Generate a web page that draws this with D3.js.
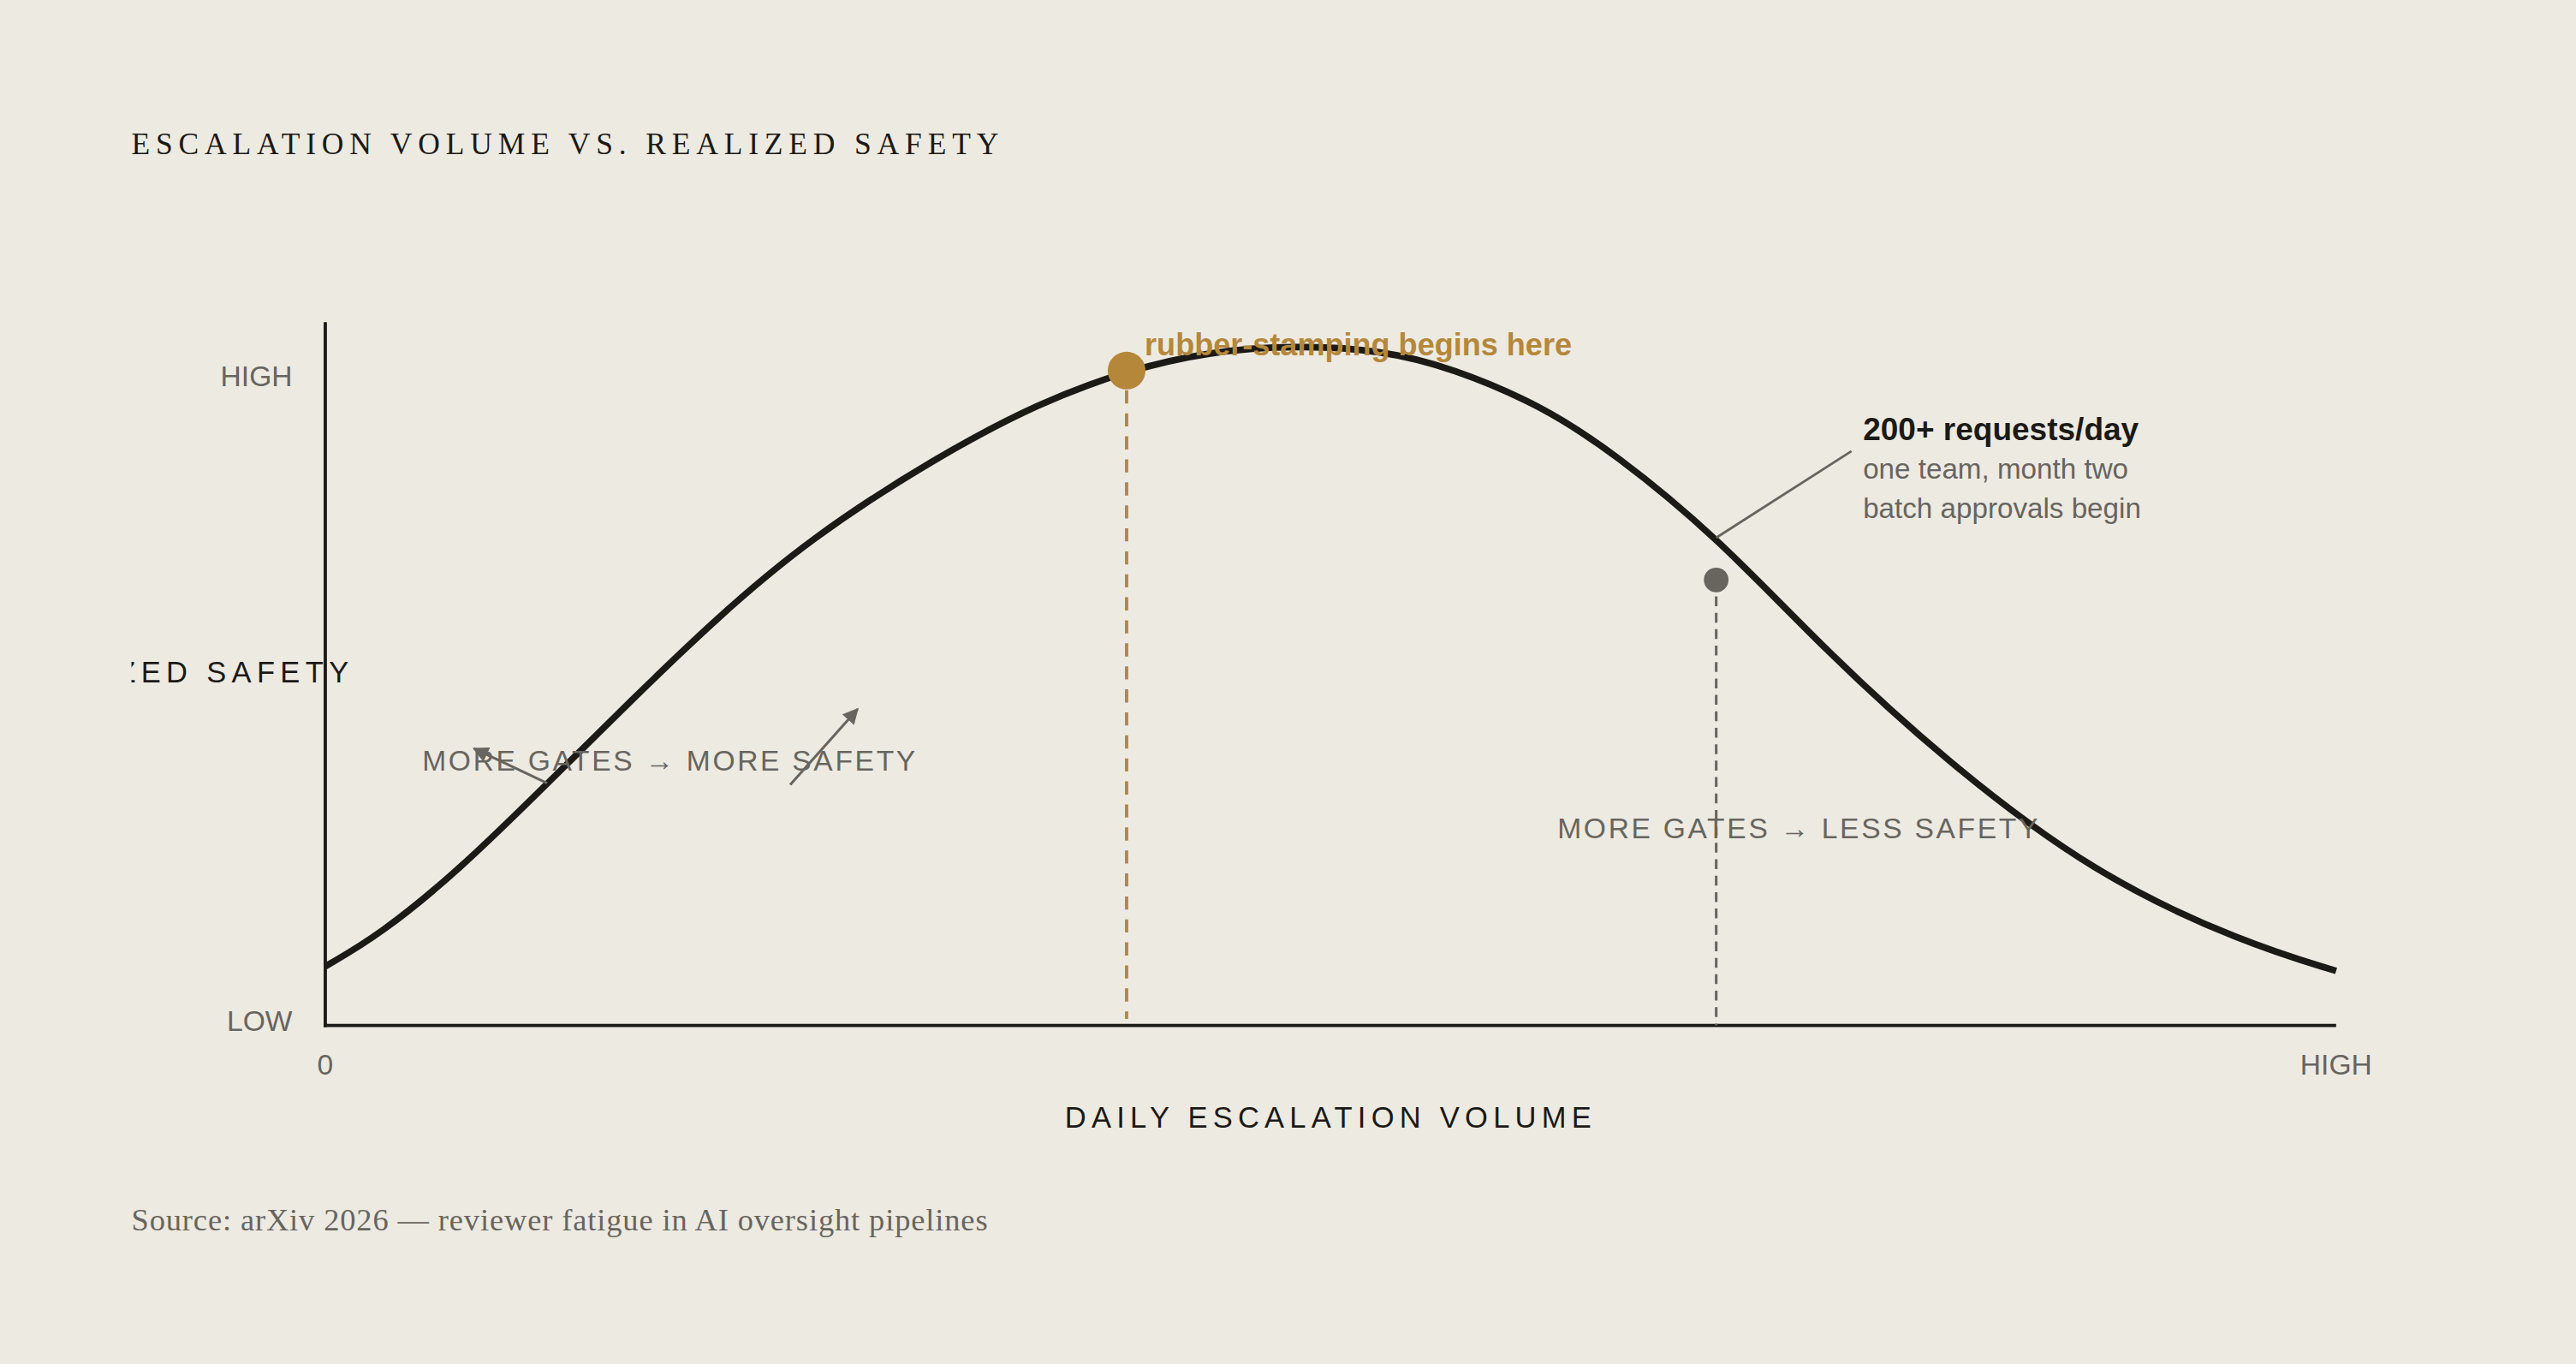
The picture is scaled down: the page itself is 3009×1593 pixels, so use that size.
<!DOCTYPE html>
<html>
<head>
<meta charset="utf-8">
<script src="https://cdn.jsdelivr.net/npm/d3@7"></script>
<style>
  html, body { margin: 0; padding: 0; background: #edeae2; }
  svg { display: block; }
</style>
</head>
<body>
<script>
// ---- data ----
const volume = [0, 2.70, 6.61, 11.05, 15.22, 19.39, 24.08, 30.34, 35.56, 39.85, 44.00, 48.25, 52.51, 56.06, 60.46, 64.10, 69.17, 74.55, 80.53, 87.99, 95.46, 100];
const safety = [0.084, 0.133, 0.232, 0.368, 0.497, 0.623, 0.748, 0.874, 0.960, 1.009, 1.039, 1.048, 1.041, 1.013, 0.955, 0.881, 0.752, 0.576, 0.404, 0.226, 0.120, 0.077];
const xTickValues = [0, 100];
const xTickLabels = ["0", "HIGH"];
const yTickValues = [0, 1];
const yTickLabels = ["LOW", "HIGH"];
const peakPoint = { x: 39.85, y: 1.009, label: "rubber-stamping begins here" };
const fatiguePoint = { x: 69.17, y: 0.684, curveY: 0.752 };
const fatigueNote = ["200+ requests/day", "one team, month two", "batch approvals begin"];
const titleText = "ESCALATION VOLUME VS. REALIZED SAFETY";
const xAxisTitle = "DAILY ESCALATION VOLUME";
const yAxisTitle = "REALIZED SAFETY";
const leftRegionText = "MORE GATES \u2192 MORE SAFETY";
const rightRegionText = "MORE GATES \u2192 LESS SAFETY";
const sourceText = "Source: arXiv 2026 \u2014 reviewer fatigue in AI oversight pipelines";

// ---- layout ----
const W = 1568, H = 830;
const ink = "#1c1a16", grey = "#67655e", gold = "#b5873a";
const sans = "'Liberation Sans', Arial, sans-serif";
const serif = "'Liberation Serif', 'DejaVu Serif', serif";

const svg = d3.select("body").append("svg")
  .attr("width", 3009).attr("height", 1593)
  .attr("viewBox", `0 0 ${W} ${H}`);

svg.append("rect").attr("width", W).attr("height", H).attr("fill", "#edeae2");

const x = d3.scaleLinear().domain([0, 100]).range([198, 1422]);
const y = d3.scaleLinear().domain([0, 1]).range([621, 229]);

const defs = svg.append("defs");
defs.append("clipPath").attr("id", "clipL")
  .append("rect").attr("x", 80).attr("y", 0).attr("width", W - 80).attr("height", H);
defs.append("marker").attr("id", "arr")
  .attr("viewBox", "0 0 10 10").attr("refX", 9).attr("refY", 5)
  .attr("markerWidth", 6).attr("markerHeight", 6).attr("orient", "auto")
  .append("path").attr("d", "M0,0 L10,5 L0,10 Z").attr("fill", grey);

// title
svg.append("text").attr("x", 80).attr("y", 94)
  .attr("font-family", serif).attr("font-size", 18.5).attr("letter-spacing", 3.56)
  .attr("fill", ink).text(titleText);

// axes lines
svg.append("line").attr("x1", x(0)).attr("x2", x(0)).attr("y1", 196).attr("y2", 625)
  .attr("stroke", ink).attr("stroke-width", 2);
svg.append("line").attr("x1", x(0) - 1).attr("x2", x(100)).attr("y1", 624).attr("y2", 624)
  .attr("stroke", ink).attr("stroke-width", 2);

// y tick labels
svg.selectAll(".yt").data(yTickValues).enter().append("text")
  .attr("x", 178).attr("y", d => y(d)).attr("dy", "0.35em")
  .attr("text-anchor", "end").attr("font-family", sans).attr("font-size", 17.5)
  .attr("fill", grey).text((d, i) => yTickLabels[i]);

// x tick labels
svg.selectAll(".xt").data(xTickValues).enter().append("text")
  .attr("x", d => x(d)).attr("y", 648).attr("dy", "0.35em")
  .attr("text-anchor", "middle").attr("font-family", sans).attr("font-size", 17.5)
  .attr("fill", grey).text((d, i) => xTickLabels[i]);

// axis titles
svg.append("text").attr("x", 810).attr("y", 680).attr("dy", "0.35em")
  .attr("text-anchor", "middle").attr("font-family", sans).attr("font-size", 18)
  .attr("letter-spacing", 3.25).attr("fill", ink).text(xAxisTitle);

svg.append("g").attr("clip-path", "url(#clipL)")
  .append("text").attr("x", 215.5).attr("y", 409).attr("dy", "0.35em")
  .attr("text-anchor", "end").attr("font-family", sans).attr("font-size", 18)
  .attr("letter-spacing", 3.3).attr("fill", ink).text(yAxisTitle);

// reference lines
svg.append("line").attr("x1", x(peakPoint.x)).attr("x2", x(peakPoint.x))
  .attr("y1", y(peakPoint.y) + 12).attr("y2", 620)
  .attr("stroke", gold).attr("stroke-width", 2).attr("stroke-dasharray", "8,6");
svg.append("line").attr("x1", x(fatiguePoint.x)).attr("x2", x(fatiguePoint.x))
  .attr("y1", y(fatiguePoint.y)).attr("y2", 624)
  .attr("stroke", grey).attr("stroke-width", 1.6).attr("stroke-dasharray", "6,4");

// curve
const pts = volume.map((v, i) => [v, safety[i]]);
svg.append("path").datum(pts)
  .attr("d", d3.line().x(d => x(d[0])).y(d => y(d[1])).curve(d3.curveBasis))
  .attr("fill", "none").attr("stroke", ink).attr("stroke-width", 4);

// markers
svg.append("circle").attr("cx", x(peakPoint.x)).attr("cy", y(peakPoint.y)).attr("r", 11.5).attr("fill", gold);
svg.append("circle").attr("cx", x(fatiguePoint.x)).attr("cy", y(fatiguePoint.y)).attr("r", 7.5).attr("fill", grey);

svg.append("text").attr("x", x(peakPoint.x) + 11).attr("y", 216)
  .attr("font-family", sans).attr("font-size", 18.8).attr("font-weight", "bold")
  .attr("fill", gold).text(peakPoint.label);

// leader line
svg.append("line").attr("x1", x(fatiguePoint.x)).attr("y1", y(fatiguePoint.curveY) + 1)
  .attr("x2", 1127).attr("y2", 274.5).attr("stroke", grey).attr("stroke-width", 1.5);

const note = svg.append("text").attr("font-family", sans);
note.append("tspan").attr("x", 1134).attr("y", 268).attr("font-size", 19.3)
  .attr("font-weight", "bold").attr("fill", ink).text(fatigueNote[0]);
note.append("tspan").attr("x", 1134).attr("y", 291).attr("font-size", 17.3)
  .attr("fill", grey).text(fatigueNote[1]);
note.append("tspan").attr("x", 1134).attr("y", 315).attr("font-size", 17.3)
  .attr("fill", grey).text(fatigueNote[2]);

// region labels
svg.append("text").attr("x", 257).attr("y", 463).attr("dy", "0.35em")
  .attr("font-family", sans).attr("font-size", 17.5).attr("letter-spacing", 1.4)
  .attr("fill", grey).text(leftRegionText);
svg.append("text").attr("x", 948).attr("y", 504).attr("dy", "0.35em")
  .attr("font-family", sans).attr("font-size", 17.5).attr("letter-spacing", 1.4)
  .attr("fill", grey).text(rightRegionText);

// arrows
svg.append("line").attr("x1", 333).attr("y1", 476.5).attr("x2", 288.5).attr("y2", 455.5)
  .attr("stroke", grey).attr("stroke-width", 1.6).attr("marker-end", "url(#arr)");
svg.append("line").attr("x1", 481).attr("y1", 477.5).attr("x2", 522).attr("y2", 431.5)
  .attr("stroke", grey).attr("stroke-width", 1.6).attr("marker-end", "url(#arr)");

// source
svg.append("text").attr("x", 80).attr("y", 749)
  .attr("font-family", serif).attr("font-size", 19).attr("letter-spacing", 0.45)
  .attr("fill", grey).text(sourceText);
</script>
</body>
</html>
